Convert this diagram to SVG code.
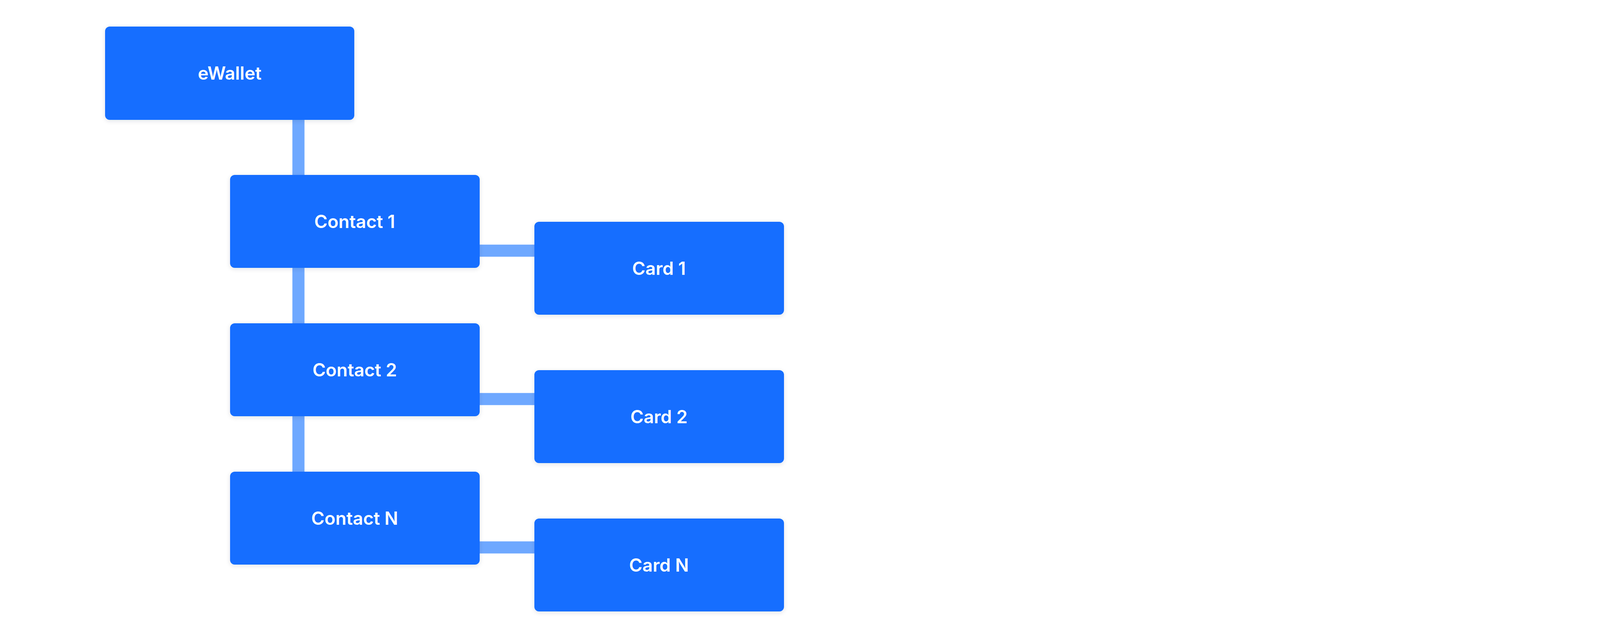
<svg xmlns="http://www.w3.org/2000/svg" width="4140" height="1634" viewBox="0 0 4140 1634">
<defs>
<filter id="sh" x="-10%" y="-10%" width="120%" height="130%"><feDropShadow dx="0" dy="3" stdDeviation="6" flood-color="#1a2a4a" flood-opacity="0.12"/></filter>
</defs>
<style>
.n rect{fill:#136EFF;filter:url(#sh)}
.n text{fill:#fff;font-family:Inter,"Open Sans",sans-serif;font-weight:600;font-size:46px;text-anchor:middle;dominant-baseline:central}
.c line{stroke:#6EA8FF;stroke-width:31}
</style>
<rect width="4140" height="1634" fill="#fff"/>
<g class="c">
<line x1="764" y1="306" x2="764" y2="1210"/>
<line x1="1228" y1="642" x2="1369" y2="642"/>
<line x1="1228" y1="1022" x2="1369" y2="1022"/>
<line x1="1228" y1="1402" x2="1369" y2="1402"/>
</g>
<g id="ewallet" class="n"><rect x="269" y="68" width="638" height="239" rx="12"/><text x="588" y="187">eWallet</text></g>
<g id="contact1" class="n"><rect x="589" y="448" width="639" height="238" rx="12"/><text x="908" y="567">Contact 1</text></g>
<g id="contact2" class="n"><rect x="589" y="828" width="639" height="238" rx="12"/><text x="908" y="947">Contact 2</text></g>
<g id="contactN" class="n"><rect x="589" y="1208" width="639" height="238" rx="12"/><text x="908" y="1327">Contact N</text></g>
<g id="card1" class="n"><rect x="1368" y="568" width="639" height="238" rx="12"/><text x="1687" y="687">Card 1</text></g>
<g id="card2" class="n"><rect x="1368" y="948" width="639" height="238" rx="12"/><text x="1687" y="1067">Card 2</text></g>
<g id="cardN" class="n"><rect x="1368" y="1328" width="639" height="238" rx="12"/><text x="1687" y="1447">Card N</text></g>
</svg>
